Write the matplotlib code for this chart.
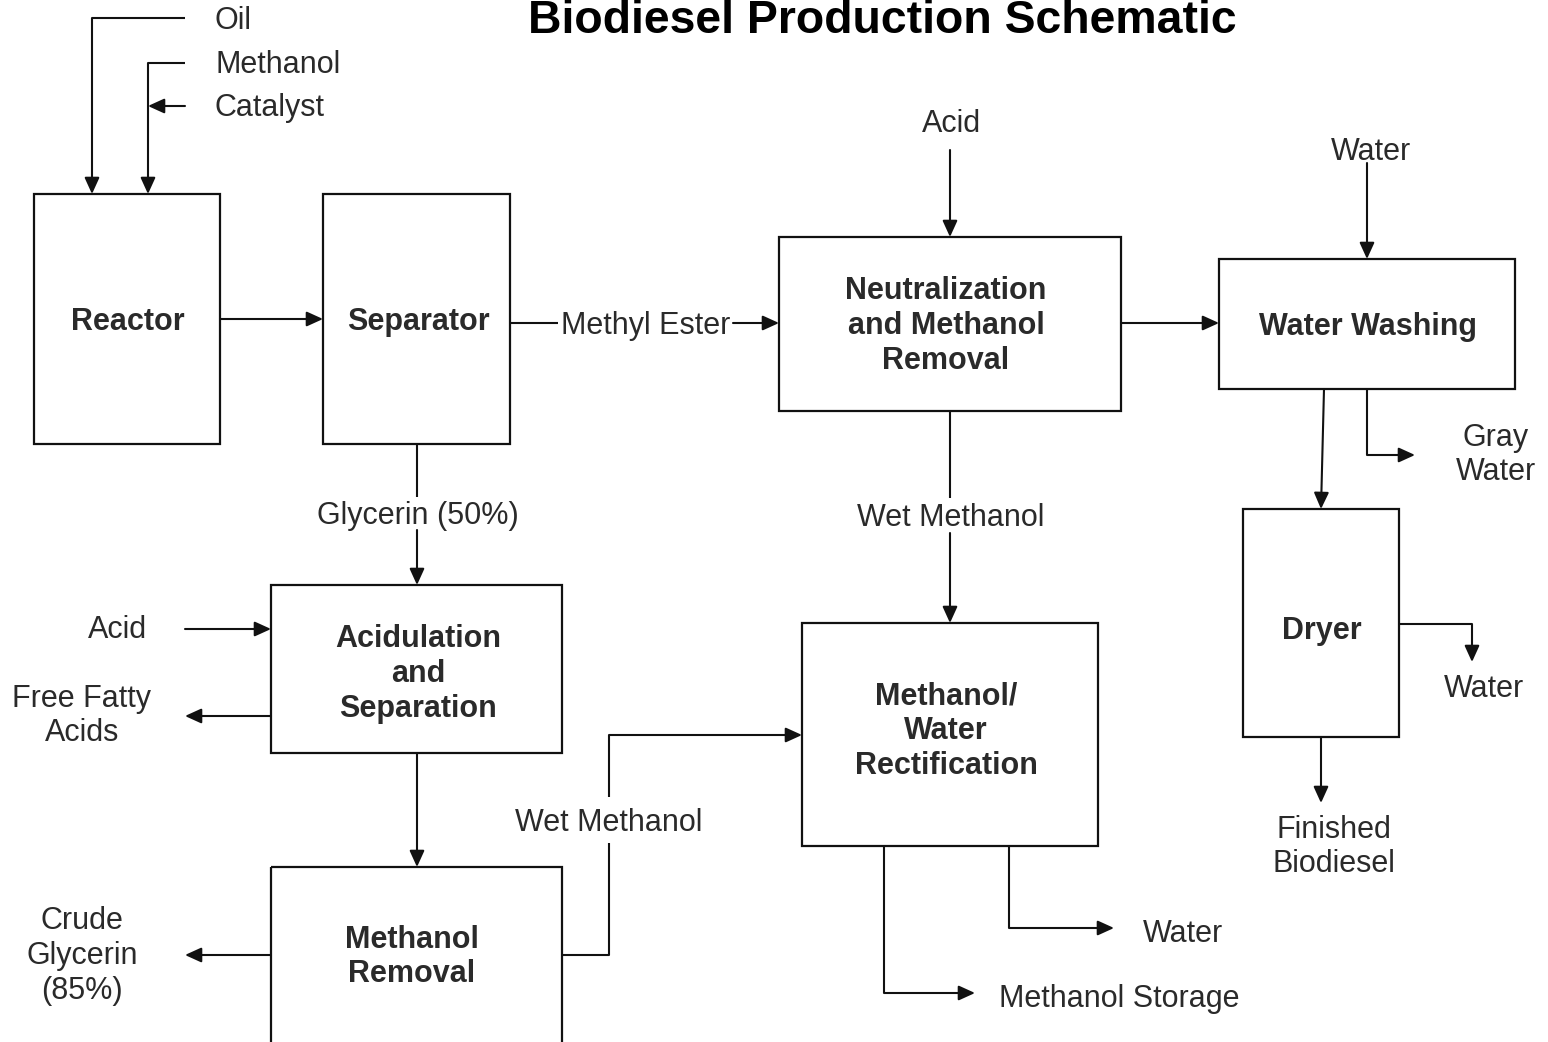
import matplotlib.pyplot as plt
from matplotlib.patches import Rectangle

plt.rcParams['font.family'] = ['Liberation Sans', 'DejaVu Sans']

TITLE = "Biodiesel Production Schematic"

# process units: label, (x0, y0, x1, y1) in pixel space (y downwards)
box_labels = ["Reactor", "Separator", "Neutralization\nand Methanol\nRemoval",
              "Water Washing", "Dryer", "Acidulation\nand\nSeparation",
              "Methanol\nRemoval", "Methanol/\nWater\nRectification"]
box_extents = [(34, 194, 220, 444), (323, 194, 510, 444), (779, 237, 1121, 411),
               (1219, 259, 1515, 389), (1243, 509, 1399, 737), (271, 585, 562, 753),
               (271, 867, 562, 1048), (802, 623, 1098, 846)]
box_text_pos = [(128, 319), (418, 319), (946, 323), (1368, 324), (1322, 628),
                (418, 671), (412, 954), (946, 728)]

# streams: polyline points, last segment carries the arrowhead
streams = [
    [(185, 18), (92, 18), (92, 194)],            # oil
    [(185, 63), (148, 63), (148, 194)],          # methanol
    [(185, 106), (148, 106)],                    # catalyst
    [(220, 319), (323, 319)],                    # reactor -> separator
    [(733, 323), (779, 323)],                    # methyl ester
    [(1121, 323), (1219, 323)],                  # -> water washing
    [(950, 150), (950, 237)],                    # acid
    [(1367, 163), (1367, 259)],                  # water in
    [(1324, 389), (1321, 509)],                  # -> dryer
    [(1367, 389), (1367, 455), (1415, 455)],     # gray water
    [(1399, 624), (1472, 624), (1472, 662)],     # dryer water
    [(1321, 737), (1321, 803)],                  # finished biodiesel
    [(417, 530), (417, 585)],                    # glycerin
    [(950, 533), (950, 623)],                    # wet methanol
    [(185, 629), (271, 629)],                    # acid 2
    [(271, 716), (185, 716)],                    # free fatty acids
    [(417, 753), (417, 867)],                    # -> methanol removal
    [(271, 955), (185, 955)],                    # crude glycerin
    [(609, 797), (609, 735), (802, 735)],        # wet methanol 2
    [(1009, 846), (1009, 928), (1114, 928)],     # water out
    [(884, 846), (884, 993), (975, 993)],        # methanol storage
]
# plain segments without arrowheads
plain_lines = [
    [(510, 323), (558, 323)],
    [(417, 444), (417, 497)],
    [(950, 411), (950, 498)],
    [(562, 955), (609, 955), (609, 843)],
]

labels = ["Oil", "Methanol", "Catalyst", "Methyl Ester", "Acid", "Water",
          "Gray\nWater", "Water", "Finished\nBiodiesel", "Glycerin (50%)",
          "Wet Methanol", "Acid", "Free Fatty\nAcids", "Crude\nGlycerin\n(85%)",
          "Wet Methanol", "Water", "Methanol Storage"]
label_pos = [(215, 18), (215, 62), (215, 105), (646, 323), (951, 121), (1371, 149),
             (1496, 452), (1484, 686), (1334, 844), (418, 513), (951, 515),
             (117, 627), (82, 713), (82, 953), (609, 820), (1183, 931), (1119, 996)]
label_ha = ["left", "left", "left", "center", "center", "center", "center", "center",
            "center", "center", "center", "center", "center", "center", "center",
            "center", "center"]

LINE = "#111111"
TEXT = "#2a2a2a"
DY = 3  # matplotlib centres on the full glyph box, nudge down

fig = plt.figure(figsize=(15.48, 10.42), dpi=100)
ax = fig.add_axes([0, 0, 1, 1])
ax.set_xlim(0, 1548)
ax.set_ylim(1042, 0)
ax.axis("off")

for (x0, y0, x1, y1) in box_extents:
    ax.add_patch(Rectangle((x0, y0), x1 - x0, y1 - y0, fill=False,
                           edgecolor=LINE, linewidth=1.6))

for lab, (x, y) in zip(box_labels, box_text_pos):
    ax.text(x, y + DY, lab, ha="center", va="center", fontsize=22, fontweight="bold",
            color=TEXT, linespacing=1.2)

for pts in plain_lines:
    xs, ys = zip(*pts)
    ax.plot(xs, ys, color=LINE, lw=1.5, solid_capstyle="butt")

for pts in streams:
    if len(pts) > 2:
        xs, ys = zip(*pts[:-1])
        ax.plot(xs, ys, color=LINE, lw=1.5, solid_capstyle="butt")
    ax.annotate("", xy=pts[-1], xytext=pts[-2],
                arrowprops=dict(arrowstyle="-|>,head_length=0.55,head_width=0.25",
                                mutation_scale=18, color=LINE, lw=1.5,
                                shrinkA=0, shrinkB=0))

for lab, (x, y), ha in zip(labels, label_pos, label_ha):
    ax.text(x, y + DY, lab, ha=ha, va="center", fontsize=22, color=TEXT,
            linespacing=1.2)

ax.text(882, 33, TITLE, ha="center", va="baseline", fontsize=33.4,
        fontweight="bold", color="#000000")

fig.savefig("out.png", dpi=100)
